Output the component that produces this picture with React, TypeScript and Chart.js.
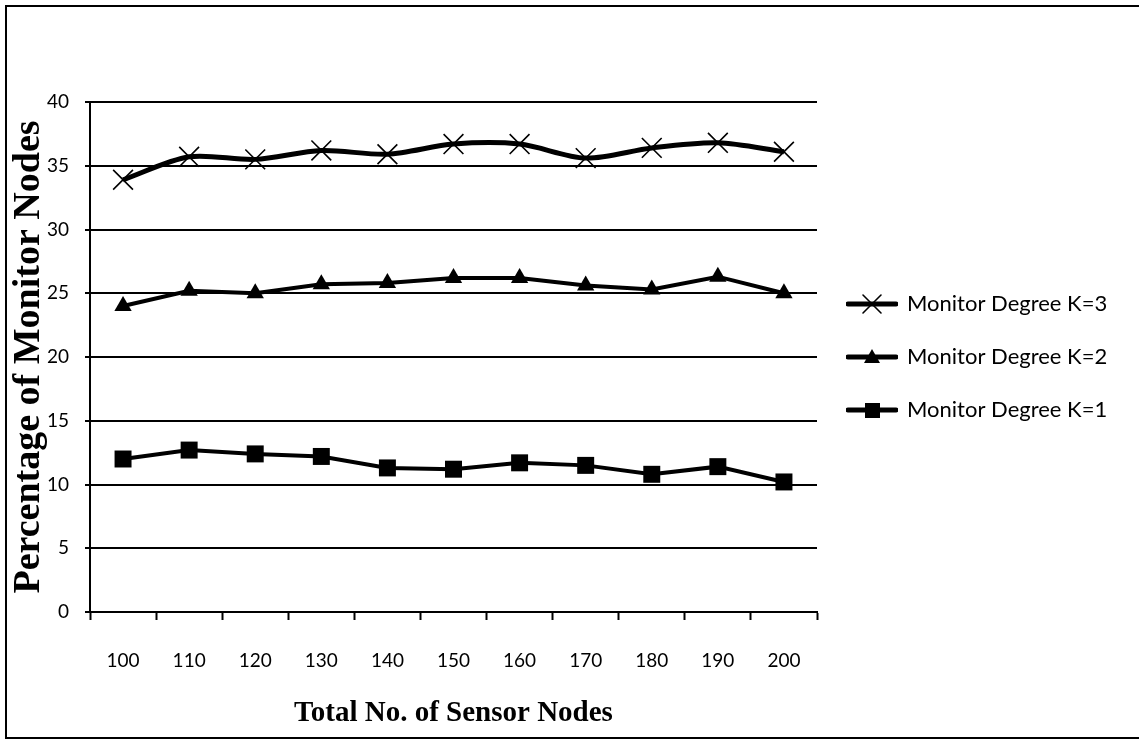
import React, { useEffect, useRef } from "react";
import { Chart, registerables } from "chart.js";

Chart.register(...registerables);

const categories = ["100", "110", "120", "130", "140", "150", "160", "170", "180", "190", "200"];
const k3Values = [33.9, 35.7, 35.5, 36.2, 35.9, 36.7, 36.7, 35.6, 36.4, 36.8, 36.1];
const k2Values = [24.0, 25.2, 25.0, 25.7, 25.8, 26.2, 26.2, 25.6, 25.3, 26.3, 25.0];
const k1Values = [12.0, 12.7, 12.4, 12.2, 11.3, 11.2, 11.7, 11.5, 10.8, 11.4, 10.2];
const seriesLabels = ["Monitor Degree K=3", "Monitor Degree K=2", "Monitor Degree K=1"];
const yTicks = [0, 5, 10, 15, 20, 25, 30, 35, 40];

function legendIcon(kind: string): HTMLCanvasElement {
  const c = document.createElement("canvas");
  c.width = 52;
  c.height = 24;
  const ctx = c.getContext("2d")!;
  ctx.strokeStyle = "#000";
  ctx.fillStyle = "#000";
  ctx.lineWidth = 5;
  ctx.lineCap = "round";
  ctx.beginPath();
  ctx.moveTo(2, 12);
  ctx.lineTo(50, 12);
  ctx.stroke();
  if (kind === "x") {
    ctx.lineWidth = 1.6;
    ctx.beginPath();
    ctx.moveTo(17, 3);
    ctx.lineTo(35, 21);
    ctx.moveTo(35, 3);
    ctx.lineTo(17, 21);
    ctx.stroke();
  } else if (kind === "tri") {
    ctx.beginPath();
    ctx.moveTo(26, 4);
    ctx.lineTo(34, 18);
    ctx.lineTo(18, 18);
    ctx.closePath();
    ctx.fill();
  } else {
    ctx.fillRect(19, 5, 15, 15);
  }
  return c;
}

const legendWidthPlugin = {
  id: "legendWidth",
  afterInit(chart: any) {
    const lg = chart.legend;
    if (!lg) return;
    const orig = lg.fit.bind(lg);
    lg.fit = function () {
      orig();
      this.width = 322;
    };
  },
};

export default function App() {
  const ref = useRef<HTMLCanvasElement | null>(null);
  useEffect(() => {
    if (!ref.current) return;
    Chart.defaults.color = "#000";
    const icons = [legendIcon("x"), legendIcon("tri"), legendIcon("sq")];
    const chart = new Chart(ref.current, {
      type: "line",
      data: {
        labels: categories,
        datasets: [
          {
            label: seriesLabels[0],
            data: k3Values,
            borderColor: "#000",
            backgroundColor: "#000",
            borderWidth: 5,
            tension: 0.3,
            pointStyle: "crossRot",
            pointRadius: 14,
            pointBorderWidth: 1.6,
            pointBorderColor: "#000",
          },
          {
            label: seriesLabels[1],
            data: k2Values,
            borderColor: "#000",
            backgroundColor: "#000",
            borderWidth: 4,
            tension: 0,
            pointStyle: "triangle",
            pointRadius: 10,
            pointBorderWidth: 0,
            pointBackgroundColor: "#000",
          },
          {
            label: seriesLabels[2],
            data: k1Values,
            borderColor: "#000",
            backgroundColor: "#000",
            borderWidth: 4,
            tension: 0,
            pointStyle: "rect",
            pointRadius: 12,
            pointBorderWidth: 0,
            pointBackgroundColor: "#000",
          },
        ],
      },
      plugins: [legendWidthPlugin],
      options: {
        animation: false,
        responsive: false,
        maintainAspectRatio: false,
        layout: { padding: { left: 0, right: 0, top: 102, bottom: 0 } },
        plugins: {
          tooltip: { enabled: false },
          legend: {
            position: "right",
            fullSize: false,
            labels: {
              usePointStyle: true,
              pointStyleWidth: 48,
              padding: 31,
              color: "#000",
              font: { family: "Lato", size: 22 },
              generateLabels: (ch: any) =>
                ch.data.datasets.map((ds: any, i: number) => ({
                  text: ds.label,
                  pointStyle: icons[i],
                  fillStyle: "#000",
                  strokeStyle: "#000",
                  lineWidth: 0,
                  hidden: false,
                  datasetIndex: i,
                  fontColor: "#000",
                })),
            },
          },
        },
        scales: {
          x: {
            type: "category",
            offset: true,
            afterFit: (s: any) => {
              s.height = 131;
            },
            grid: {
              offset: true,
              drawOnChartArea: false,
              drawTicks: true,
              tickLength: 8,
              tickColor: "#000",
              tickWidth: 2,
            },
            border: { display: true, color: "#000", width: 2 },
            ticks: {
              padding: 29,
              color: "#000",
              font: { family: "Lato", size: 19 },
              maxRotation: 0,
            },
            title: {
              display: true,
              text: "Total No. of Sensor Nodes",
              color: "#000",
              font: { family: "Liberation Serif", size: 29, weight: "bold" },
              padding: { top: 4, bottom: 12 },
            },
          },
          y: {
            min: 0,
            max: 40,
            afterFit: (s: any) => {
              s.width = 90;
            },
            afterBuildTicks: (s: any) => {
              s.ticks = yTicks.map((v) => ({ value: v }));
            },
            grid: {
              color: "#000",
              lineWidth: 2,
              drawTicks: true,
              tickLength: 5,
              tickColor: "#000",
            },
            border: { display: true, color: "#000", width: 2 },
            ticks: {
              padding: 16,
              color: "#000",
              font: { family: "Lato", size: 19 },
            },
            title: {
              display: true,
              text: "Percentage of Monitor Nodes",
              color: "#000",
              font: { family: "Liberation Serif", size: 38, weight: "bold" },
              padding: { top: 6, bottom: 0 },
            },
          },
        },
      },
    });
    return () => chart.destroy();
  }, []);

  return (
    <div style={{ position: "fixed", left: 0, top: 0, width: 1139, height: 743, background: "#fff" }}>
      <canvas ref={ref} width={1139} height={743} style={{ position: "absolute", left: 0, top: 0, width: 1139, height: 743 }} />
      <div
        style={{
          position: "absolute",
          left: 5,
          top: 5,
          width: 1134,
          height: 730,
          borderTop: "2px solid #000",
          borderLeft: "2px solid #000",
          borderBottom: "2px solid #000",
          pointerEvents: "none",
        }}
      />
    </div>
  );
}
